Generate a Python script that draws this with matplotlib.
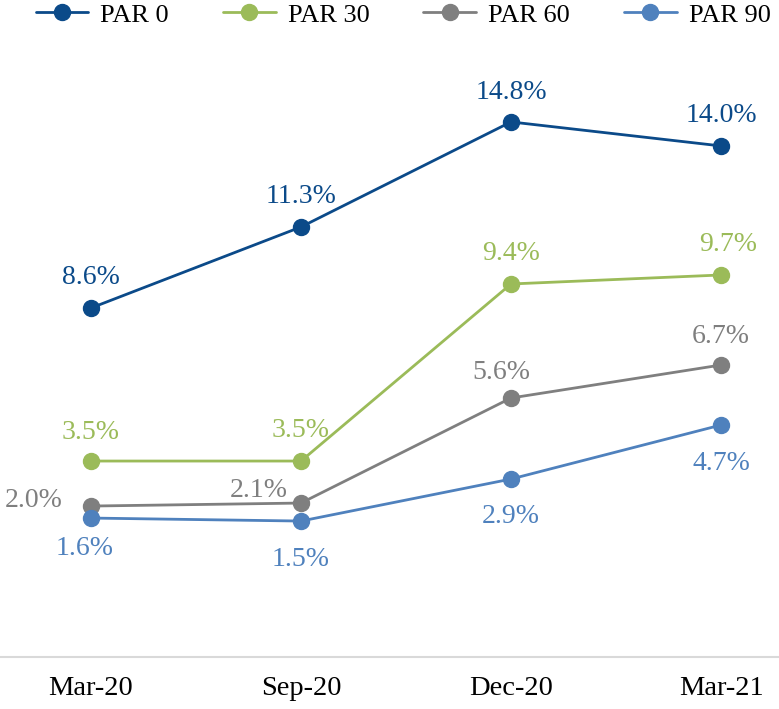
import matplotlib
matplotlib.use("Agg")
import matplotlib.pyplot as plt

# PAR ratios per quarter
quarters = ["Mar-20", "Sep-20", "Dec-20", "Mar-21"]
par0 = [8.6, 11.3, 14.8, 14.0]
par30 = [3.5, 3.5, 9.4, 9.7]
par60 = [2.0, 2.1, 5.6, 6.7]
par90 = [1.6, 1.5, 2.9, 4.7]
names = ["PAR 0", "PAR 30", "PAR 60", "PAR 90"]

colors = ["#0B4A89", "#9BBB59", "#7F7F7F", "#4F81BD"]

# label offsets in pixels (dx, dy to baseline, ha)
offsets = [
    [(0, 24, "center"), (0, 24, "center"), (0, 23, "center"), (0, 24, "center")],
    [(0, 22, "center"), (0, 24, "center"), (0, 24, "center"), (7, 24, "center")],
    [(-28, -1, "right"), (-13, 6, "right"), (-10, 19, "center"), (0, 22, "center")],
    [(-6, -37, "center"), (0, -45, "center"), (0, -44, "center"), (0, -45, "center")],
]

plt.rcParams["font.family"] = ["Liberation Serif", "DejaVu Serif"]

fig = plt.figure(figsize=(7.79, 7.09), dpi=100)
ax = fig.add_axes([0, 52 / 709, 1, 617 / 709])

x = list(range(len(quarters)))
series = [par0, par30, par60, par90]
for vals, name, c, offs in zip(series, names, colors, offsets):
    ax.plot(x, vals, color=c, lw=2, marker="o", ms=11.5, label=name,
            solid_capstyle="round")
    for xi, v, (dx, dy, ha) in zip(x, vals, offs):
        ax.annotate(f"{v:.1f}%", (xi, v), xytext=(dx, dy),
                    textcoords="offset pixels", ha=ha, va="baseline",
                    color=c, fontsize=20)

ax.set_xlim(-91 / 210, 3 + 58 / 210)
ax.set_ylim(-3.03, 17.53)
ax.set_xticks(x)
ax.set_xticklabels(quarters, fontsize=20.5, color="black")
ax.tick_params(axis="x", length=0, pad=14)
ax.set_yticks([])
for s in ["top", "left", "right"]:
    ax.spines[s].set_visible(False)
ax.spines["bottom"].set_color("#D9D9D9")
ax.spines["bottom"].set_linewidth(1.5)

fig.legend(loc="center", bbox_to_anchor=(403 / 779, 1 - 15 / 709), ncol=4,
           frameon=False, fontsize=19, handlelength=2.0, handletextpad=0.45,
           columnspacing=2.05, borderpad=0, borderaxespad=0)

fig.savefig("out.png", dpi=100)
